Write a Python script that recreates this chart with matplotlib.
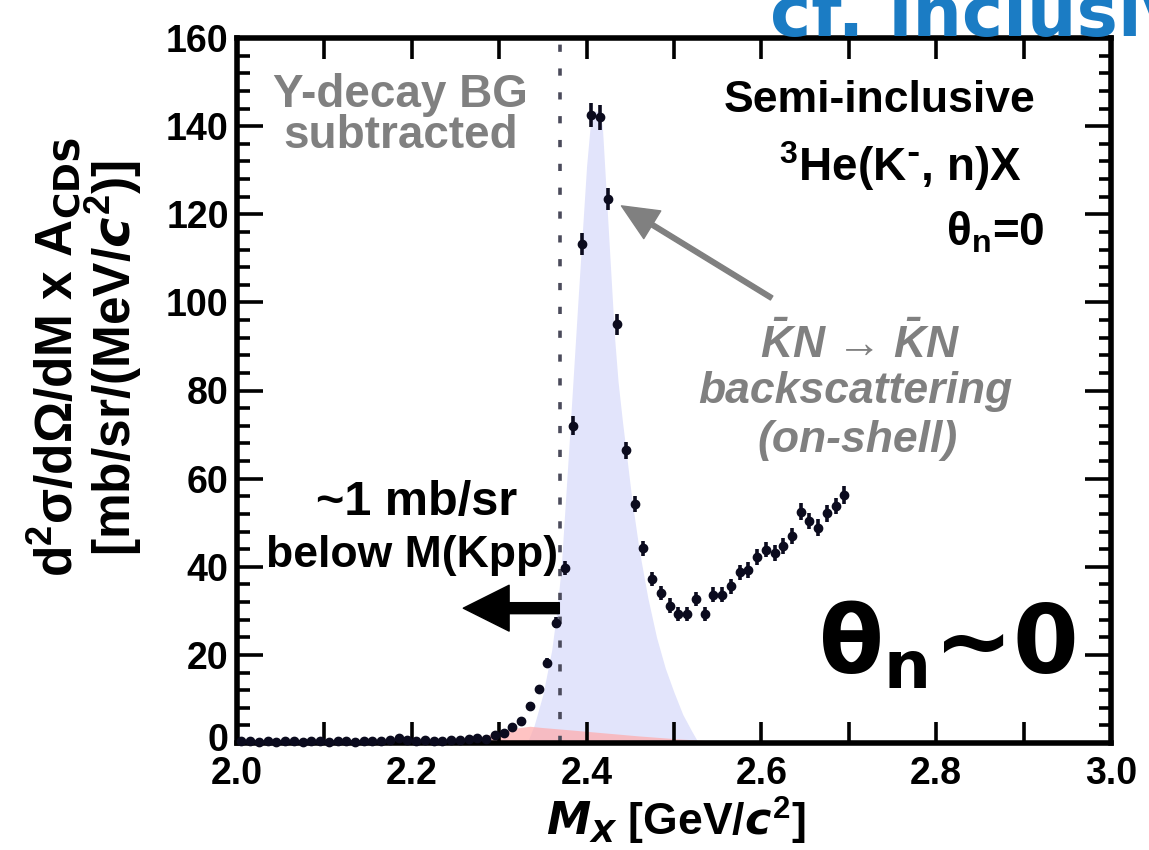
import numpy as np
import matplotlib
matplotlib.use("Agg")
import matplotlib.pyplot as plt
from matplotlib.ticker import FixedLocator, MultipleLocator
from matplotlib.transforms import ScaledTranslation

plt.rcParams['font.family'] = ['Liberation Sans', 'DejaVu Sans']
plt.rcParams['font.weight'] = 'bold'
plt.rcParams['mathtext.default'] = 'regular'

# Missing-mass spectrum (10 MeV bins)
mx = [2.005, 2.015, 2.025, 2.035, 2.045, 2.055, 2.065, 2.075, 2.085, 2.095,
      2.105, 2.115, 2.125, 2.135, 2.145, 2.155, 2.165, 2.175, 2.185, 2.195,
      2.205, 2.215, 2.225, 2.235, 2.245, 2.255, 2.265, 2.275, 2.285, 2.295,
      2.305, 2.315, 2.325, 2.335, 2.345, 2.355, 2.365, 2.375, 2.385, 2.395,
      2.405, 2.415, 2.425, 2.435, 2.445, 2.455, 2.465, 2.475, 2.485, 2.495,
      2.505, 2.515, 2.525, 2.535, 2.545, 2.555, 2.565, 2.575, 2.585, 2.595,
      2.605, 2.615, 2.625, 2.635, 2.645, 2.655, 2.665, 2.675, 2.685, 2.695]
xsec = [0.4, 0.4, 0.3, 0.4, 0.3, 0.4, 0.4, 0.3, 0.4, 0.5,
        0.3, 0.4, 0.4, 0.3, 0.4, 0.5, 0.4, 0.6, 1.2, 0.6,
        0.5, 0.6, 0.4, 0.5, 0.6, 0.6, 0.8, 1.1, 0.8, 1.9,
        2.3, 3.6, 5.0, 8.5, 12.2, 18.2, 27.3, 39.7, 72.0, 113.3,
        142.5, 142.0, 123.5, 95.0, 66.4, 54.2, 44.2, 37.2, 34.0, 31.2,
        29.3, 29.3, 32.7, 29.3, 33.6, 33.6, 35.6, 38.7, 39.3, 42.3,
        43.9, 43.2, 44.7, 47.0, 52.5, 50.4, 48.9, 52.1, 53.8, 56.3]
xsec_err = [0.2, 0.2, 0.2, 0.2, 0.2, 0.2, 0.2, 0.2, 0.2, 0.2,
            0.2, 0.2, 0.2, 0.2, 0.2, 0.2, 0.2, 0.2, 0.3, 0.2,
            0.2, 0.2, 0.2, 0.2, 0.2, 0.2, 0.3, 0.3, 0.3, 0.4,
            0.4, 0.5, 0.6, 0.7, 0.8, 1.0, 1.2, 1.5, 2.2, 2.5,
            2.8, 2.8, 2.5, 2.3, 2.0, 1.8, 1.7, 1.6, 1.6, 1.6,
            1.6, 1.6, 1.6, 1.6, 1.7, 1.7, 1.7, 1.8, 1.8, 1.8,
            1.8, 1.8, 1.8, 1.9, 1.9, 1.9, 1.9, 1.9, 1.9, 2.0]

# On-shell KbarN -> KbarN backscattering component
qf_x = [2.332, 2.340, 2.350, 2.360, 2.366, 2.371, 2.380, 2.390, 2.400, 2.405,
        2.410, 2.415, 2.418, 2.425, 2.432, 2.436, 2.441, 2.452, 2.460, 2.470,
        2.480, 2.490, 2.500, 2.510, 2.520, 2.528]
qf_y = [0.0, 4.0, 11.0, 21.0, 30.0, 40.0, 68.0, 100.0, 131.0, 142.0,
        143.5, 143.0, 140.0, 116.0, 92.0, 82.0, 73.0, 55.0, 44.0, 33.0,
        24.0, 17.0, 11.5, 6.5, 2.8, 0.0]

# Residual Y-decay component
yd_x = [2.200, 2.250, 2.280, 2.300, 2.320, 2.335, 2.350, 2.380, 2.420, 2.460,
        2.500, 2.540, 2.580, 2.600]
yd_y = [0.0, 0.7, 1.5, 2.4, 3.4, 3.8, 3.5, 3.0, 2.3, 1.6,
        1.0, 0.5, 0.2, 0.0]

m_kpp = 2.370

x_major = [2.0, 2.1, 2.2, 2.3, 2.4, 2.5, 2.6, 2.7, 2.8, 2.9, 3.0]
x_labels = ['2.0', '', '2.2', '', '2.4', '', '2.6', '', '2.8', '', '3.0']
y_major = [0, 20, 40, 60, 80, 100, 120, 140, 160]

W, H = 1149, 850
fig = plt.figure(figsize=(W / 100, H / 100), dpi=100)
ax = fig.add_axes([237 / W, 1 - 743 / H, (1111 - 237) / W, (743 - 38) / H])


def fpos(px, py):
    return px / W, 1 - py / H


ax.fill_between(qf_x, qf_y, 0, color='#e2e4fb', lw=0, zorder=1)
ax.fill_between(yd_x, yd_y, 0, color='#ffaaaa', alpha=0.7, lw=0, zorder=1.2)
ax.plot([2.15, 2.55], [0.15, 0.15], color='#7a1010', lw=1.5, zorder=1.3)

ax.axvline(m_kpp, color='#4a4a5a', lw=2.6, ls=(0, (2.0, 4.6)), zorder=1.5)

ax.errorbar(mx, xsec, yerr=xsec_err, fmt='o', color='#0b0b1e', ms=6,
            elinewidth=2.6, capsize=0, zorder=4, clip_on=False)

ax.set_xlim(2.0, 3.0)
ax.set_ylim(0, 160)
ax.xaxis.set_major_locator(FixedLocator(x_major))
ax.set_xticklabels(x_labels)
ax.yaxis.set_major_locator(FixedLocator(y_major))
ax.yaxis.set_minor_locator(MultipleLocator(4))
ax.tick_params(axis='both', which='both', direction='in', top=True, right=True,
               width=2.6, colors='black')
ax.tick_params(axis='y', which='major', length=19, pad=6, labelsize=27)
ax.tick_params(axis='y', which='minor', length=9)
ax.tick_params(axis='x', which='major', length=15, pad=9, labelsize=27)
for lab in ax.get_xticklabels() + ax.get_yticklabels():
    lab.set_fontweight('bold')
# lift the "0" label slightly so it clears the "2.0" below it
zero_lab = ax.get_yticklabels()[0]
zero_lab.set_transform(zero_lab.get_transform()
                       + ScaledTranslation(0, 4 / 72, fig.dpi_scale_trans))
for sp in ax.spines.values():
    sp.set_linewidth(4)
    sp.set_zorder(3)

# axis titles
fig.text(*fpos(55, 357), r'd$^2$σ/dΩ/dM x A$_{\mathrm{CDS}}$', rotation=90,
         ha='center', va='center', fontsize=37, fontweight='bold')
fig.text(*fpos(114, 358), r'[mb/sr/(MeV/$\mathit{c}^2$)]', rotation=90,
         ha='center', va='center', fontsize=37, fontweight='bold')
fig.text(*fpos(676, 821), r'$\mathit{M_X}$ [GeV/$\mathit{c}^2$]',
         ha='center', va='center', fontsize=32, fontweight='bold')

# annotations
grey = '#808080'
fig.text(*fpos(400, 95), 'Y-decay BG', ha='center', va='center',
         fontsize=33, color=grey, fontweight='bold')
fig.text(*fpos(401, 136), 'subtracted', ha='center', va='center',
         fontsize=33, color=grey, fontweight='bold')

fig.text(*fpos(880, 100), 'Semi-inclusive', ha='center', va='center',
         fontsize=32, fontweight='bold')
fig.text(*fpos(900, 166), r'$^{3}$He(K$^{\text{-}}$, n)X', ha='center',
         va='center', fontsize=33, fontweight='bold')
fig.text(*fpos(995, 233), r'θ$_{n}$=0', ha='center', va='center',
         fontsize=33, fontweight='bold')

fig.text(*fpos(860, 345), r'$\bar{K}N$ → $\bar{K}N$', ha='center',
         va='center', fontsize=32, color=grey, fontweight='bold', style='italic')
fig.text(*fpos(855, 392), 'backscattering', ha='center', va='center',
         fontsize=32, color=grey, fontweight='bold', style='italic')
fig.text(*fpos(858, 440), '(on-shell)', ha='center', va='center',
         fontsize=32, color=grey, fontweight='bold', style='italic')

ax.annotate('', xy=(2.4399, 121.9), xytext=(2.6117, 101.0),
            arrowprops=dict(arrowstyle='simple,head_length=1.0,head_width=0.9,tail_width=0.13',
                            mutation_scale=26, color=grey, shrinkA=0, shrinkB=0))

fig.text(*fpos(417, 502), '~1 mb/sr', ha='center', va='center',
         fontsize=35, fontweight='bold')
fig.text(*fpos(412, 555), 'below M(Kpp)', ha='center', va='center',
         fontsize=32, fontweight='bold')
ax.annotate('', xy=(2.2589, 30.6), xytext=(2.3688, 30.6),
            arrowprops=dict(arrowstyle='simple,head_length=1.0,head_width=1.0,tail_width=0.24',
                            mutation_scale=33, color='black', shrinkA=0, shrinkB=0))

fig.text(*fpos(947, 647), r'θ$_{n}$~0', ha='center', va='center',
         fontsize=68, fontweight='bold', family='DejaVu Sans')

fig.text(*fpos(770, 36), 'cf. inclusive', ha='left', va='baseline',
         fontsize=50, fontweight='bold', color='#1b7cc4', family='DejaVu Sans')

fig.savefig('out.png', dpi=100)
